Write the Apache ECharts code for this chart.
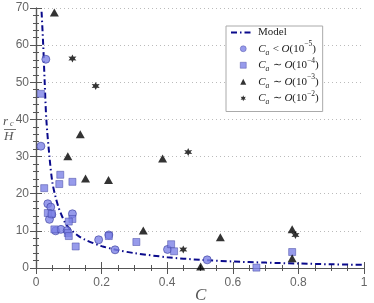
<!DOCTYPE html>
<html><head><meta charset="utf-8">
<script src="https://cdn.jsdelivr.net/npm/echarts@6/dist/echarts.min.js"></script>
<style>html,body{margin:0;padding:0;background:#fff}#c{width:374px;height:303px}</style>
</head><body><div id="c"></div>
<script>
// ---- data ----
var modelC = [0.017,0.022,0.0265,0.0315,0.041,0.05,0.06,0.07,0.08,0.09,0.1,0.11,0.13,0.15,0.2,0.25,0.3,0.4,0.5,0.6,0.7,0.8,0.9,1.0];
var modelY = [69,60,50,40,30,23,19,16,13.8,12,10.8,10,8.6,7.6,5.9,4.8,4.0,2.9,2.2,1.75,1.45,1.2,1.0,0.85];

var circC = [0.015,0.03,0.036,0.045,0.048,0.041,0.06,0.076,0.095,0.111,0.191,0.222,0.241,0.401,0.522];
var circY = [32.8,56.2,17.3,16.4,14.4,13.1,10.0,10.4,10.1,14.6,7.6,8.9,4.9,5.0,2.2];

var sqC = [0.015,0.025,0.036,0.048,0.056,0.074,0.071,0.111,0.111,0.1,0.097,0.1,0.121,0.222,0.306,0.412,0.421,0.672,0.781];
var sqY = [46.9,21.5,14.8,14.6,10.4,25.1,22.6,23.2,13.2,12.5,9.4,8.6,5.8,8.6,7.0,6.4,4.5,0.1,4.3];

var triC = [0.056,0.097,0.135,0.151,0.221,0.327,0.386,0.502,0.562,0.781,0.781];
var triY = [68.8,30.1,36.0,24.1,23.7,10.1,29.5,0.4,8.3,10.4,2.6];

var starC = [0.111,0.182,0.449,0.464,0.791];
var starY = [56.4,49.0,5.0,31.2,8.9];

var xTicks = ['0','0.2','0.4','0.6','0.8','1'];
var markerNames = ['Ca5','Ca4','Ca3','Ca2'];

function pairs(a,b){return a.map(function(v,i){return [v,b[i]];});}

// six-point star symbol path
var sp=[];
for(var k=0;k<12;k++){var r=(k%2===0)?10:5;var ang=(k*30-90)*Math.PI/180;sp.push((k===0?'M':'L')+(r*Math.cos(ang)).toFixed(2)+' '+(r*Math.sin(ang)).toFixed(2));}
var starPath='path://'+sp.join(' ')+' Z';
var markerIcons={Ca5:'circle',Ca4:'rect',Ca3:'triangle',Ca2:starPath};

var chart = echarts.init(document.getElementById('c'),null,{renderer:'canvas'});
var axisCol='#555';
var LH=14.5;
var rich={
  n:{fontFamily:'Liberation Serif',fontSize:11,color:'#222',lineHeight:LH},
  i:{fontFamily:'Liberation Serif',fontStyle:'italic',fontSize:11,color:'#222',lineHeight:LH},
  sub:{fontFamily:'Liberation Serif',fontStyle:'italic',fontSize:7.5,color:'#222',verticalAlign:'bottom',lineHeight:LH,padding:[0,0,-1,0]},
  sup:{fontFamily:'Liberation Serif',fontSize:7.5,color:'#222',verticalAlign:'top',lineHeight:LH,padding:[-1,0,0,0]}
};
var labelMap={
  'Model':'{n|Model}',
  'Ca5':'{i|C}{sub|a} {n|< }{i|O}{n|(10}{sup|−5}{n|)}',
  'Ca4':'{i|C}{sub|a} {n|∼ }{i|O}{n|(10}{sup|−4}{n|)}',
  'Ca3':'{i|C}{sub|a} {n|∼ }{i|O}{n|(10}{sup|−3}{n|)}',
  'Ca2':'{i|C}{sub|a} {n|∼ }{i|O}{n|(10}{sup|−2}{n|)}'
};
var blueFill='#7d82e6', blueEdge='#3b3f9e';
var option={
  animation:false,
  backgroundColor:'#fff',
  grid:{left:36,right:10,top:8,bottom:35},
  legend:[{
    orient:'vertical',left:226,top:26,z:4,
    data:markerNames.map(function(n){return {name:n,icon:markerIcons[n],itemStyle:{borderWidth:0.5}};}),
    itemWidth:6,itemHeight:6,itemGap:0,
    padding:[14.5,4,5,14],
    backgroundColor:'#fff',borderColor:'#aaa',borderWidth:1,
    formatter:function(n){return labelMap[n];},
    textStyle:{rich:rich,padding:[0,0,0,7]}
  },{
    orient:'vertical',left:230,top:27,z:6,
    data:[{name:'Model',itemStyle:{opacity:0}}],
    itemWidth:22,itemHeight:8,itemGap:0,padding:0,
    formatter:function(n){return labelMap[n];},
    textStyle:{rich:rich}
  }],
  xAxis:[{
    type:'value',min:0,max:1,interval:0.2,position:'bottom',
    axisLine:{show:true,lineStyle:{color:axisCol,width:1.2}},
    axisTick:{show:true,inside:true,length:6,lineStyle:{color:axisCol}},
    minorTick:{show:true,splitNumber:4,length:3,lineStyle:{color:axisCol}},
    splitLine:{show:false},
    axisLabel:{color:'#666',fontFamily:'Liberation Sans',fontSize:12,margin:9,
      formatter:function(v){var i=Math.round(v/0.2);return xTicks[i];}}
  },{
    type:'value',min:0,max:1,interval:0.2,position:'top',
    axisLine:{show:true,lineStyle:{color:axisCol,width:1.2}},
    axisTick:{show:true,inside:true,length:6,lineStyle:{color:axisCol}},
    minorTick:{show:true,splitNumber:4,length:3,lineStyle:{color:axisCol}},
    splitLine:{show:false},axisLabel:{show:false}
  }],
  yAxis:[{
    type:'value',min:0,max:70,interval:10,position:'left',
    axisLine:{show:true,lineStyle:{color:axisCol,width:1.2}},
    axisTick:{show:true,inside:true,length:6,lineStyle:{color:axisCol}},
    minorTick:{show:true,splitNumber:5,length:3,lineStyle:{color:axisCol}},
    splitLine:{show:true,lineStyle:{color:'#bbb',type:[1,3],width:1}},
    axisLabel:{color:'#666',fontFamily:'Liberation Sans',fontSize:12,margin:7}
  },{
    type:'value',min:0,max:70,interval:10,position:'right',
    axisLine:{show:true,lineStyle:{color:axisCol,width:1.2}},
    axisTick:{show:true,inside:true,length:6,lineStyle:{color:axisCol}},
    minorTick:{show:true,splitNumber:5,length:3,lineStyle:{color:axisCol}},
    splitLine:{show:false},axisLabel:{show:false}
  }],
  series:[
    {name:'Model',type:'line',smooth:0.3,symbol:'none',z:3,
     data:pairs(modelC,modelY),
     lineStyle:{color:'#0a0a8c',width:2,type:[6,3,1.5,3]},itemStyle:{color:'#0a0a8c'}},
    {name:'Ca5',type:'scatter',symbol:'circle',symbolSize:8,z:4,data:pairs(circC,circY),
     itemStyle:{color:blueFill,borderColor:blueEdge,borderWidth:0.8}},
    {name:'Ca4',type:'scatter',symbol:'rect',symbolSize:7,z:4,data:pairs(sqC,sqY),
     itemStyle:{color:blueFill,borderColor:blueEdge,borderWidth:0.6}},
    {name:'Ca3',type:'scatter',symbol:'triangle',symbolSize:[9,8],z:4,data:pairs(triC,triY),
     itemStyle:{color:'#000'}},
    {name:'Ca2',type:'scatter',symbol:starPath,symbolSize:8,z:4,data:pairs(starC,starY),
     itemStyle:{color:'#000'}}
  ],
  graphic:[
    {type:'text',left:195,top:287,style:{text:'C',font:'italic 17px "Liberation Serif"',fill:'#555'}},
    {type:'text',left:3,top:115,style:{text:'r',font:'italic 13px "Liberation Serif"',fill:'#555'}},
    {type:'text',left:10,top:120,style:{text:'c',font:'italic 8px "Liberation Serif"',fill:'#555'}},
    {type:'line',shape:{x1:4,y1:129.5,x2:16,y2:129.5},style:{stroke:'#555',lineWidth:0.8}},
    {type:'text',left:4,top:130,style:{text:'H',font:'italic 13px "Liberation Serif"',fill:'#555'}}
  ]
};
chart.setOption(option);
</script></body></html>
